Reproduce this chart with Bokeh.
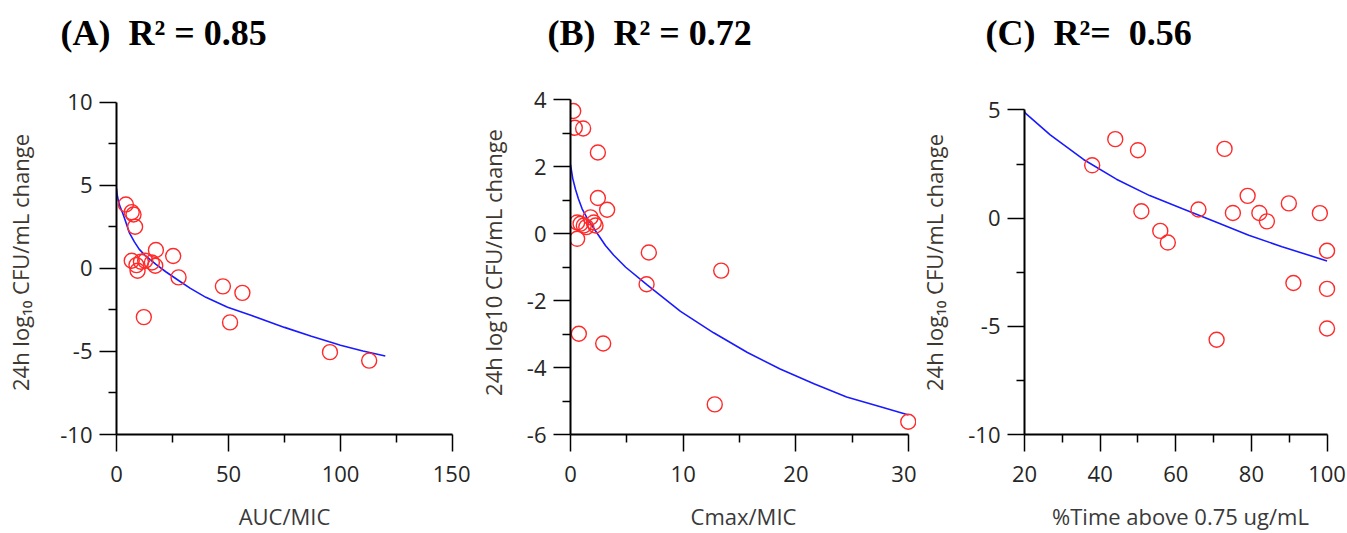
from bokeh.plotting import figure
from bokeh.layouts import row
from bokeh.models import Range1d, FixedTicker, Title
from bokeh.embed import file_html
from bokeh.resources import INLINE

# ---------------- data ----------------
# (A) AUC/MIC
a_x = [4.2, 6.8, 7.6, 8.3, 6.8, 9.4, 10.9, 12.8, 15.8, 17.6, 17.3, 8.9, 25.3, 27.7, 12.2, 47.5, 56.2, 50.7, 95.3, 112.8]
a_y = [3.85, 3.39, 3.25, 2.51, 0.46, -0.14, 0.40, 0.46, 0.36, 1.11, 0.16, 0.20, 0.75, -0.54, -2.93, -1.08, -1.47, -3.25, -5.04, -5.55]
a_fit_x = [0, 0.3, 0.8, 1.5, 2.7, 4, 5.7, 8, 10.1, 13, 17.5, 22, 27.9, 33, 39.9, 49.6, 60, 75, 87, 95, 100, 110, 120]
a_fit_y = [4.8, 4.45, 4.1, 3.75, 3.35, 2.85, 2.16, 1.6, 1.16, 0.75, 0.26, -0.2, -0.74, -1.2, -1.74, -2.34, -2.82, -3.55, -4.08, -4.42, -4.62, -4.97, -5.27]

# (B) Cmax/MIC
b_x = [0.24, 0.38, 1.12, 2.43, 2.43, 3.25, 0.59, 0.89, 1.18, 1.78, 2.07, 2.22, 1.4, 0.59, 6.95, 6.75, 13.37, 0.74, 2.9, 12.8, 29.97]
b_y = [3.67, 3.17, 3.15, 2.43, 1.07, 0.72, 0.34, 0.30, 0.25, 0.49, 0.34, 0.25, 0.20, -0.15, -0.56, -1.51, -1.10, -2.99, -3.28, -5.10, -5.62]
b_fit_x = [0, 0.2, 0.44, 0.7, 1.04, 1.5, 1.9, 2.5, 3.1, 3.84, 4.9, 6.8, 9.76, 12.7, 15.7, 18.6, 21.6, 24.5, 27.5, 30.0]
b_fit_y = [2.07, 1.65, 1.33, 1.05, 0.74, 0.45, 0.25, -0.05, -0.35, -0.64, -1.0, -1.53, -2.32, -2.96, -3.55, -4.04, -4.48, -4.88, -5.17, -5.42]

# (C) %Time above 0.75 ug/mL
c_x = [37.9, 44.0, 50.0, 72.9, 50.9, 55.9, 57.9, 66.0, 75.1, 79.0, 82.1, 84.1, 89.9, 98.1, 100, 91.1, 100, 100, 70.8]
c_y = [2.44, 3.65, 3.14, 3.20, 0.32, -0.59, -1.13, 0.40, 0.24, 1.03, 0.24, -0.15, 0.68, 0.23, -1.51, -3.0, -3.27, -5.10, -5.62]
c_fit_x = [20, 20.3, 26.8, 35.6, 44.3, 53.1, 61.8, 70.6, 79.3, 88.1, 100]
c_fit_y = [4.92, 4.84, 3.85, 2.71, 1.80, 1.04, 0.43, -0.18, -0.79, -1.32, -1.98]

a_xticks, a_xminor = [0, 50, 100, 150], [25, 75, 125]
a_yticks, a_yminor = [-10, -5, 0, 5, 10], [-7.5, -2.5, 2.5, 7.5]
b_xticks, b_xminor = [0, 10, 20, 30], [5, 15, 25]
b_yticks, b_yminor = [-6, -4, -2, 0, 2, 4], [-5, -3, -1, 1, 3]
c_xticks, c_xminor = [20, 40, 60, 80, 100], [30, 50, 70, 90]
c_yticks, c_yminor = [-10, -5, 0, 5], [-7.5, -2.5, 2.5]

titles = ["(A)\u00a0 R\u00b2 = 0.85", "(B)\u00a0 R\u00b2 = 0.72", "(C)\u00a0 R\u00b2=\u00a0 0.56"]
x_labels = ["AUC/MIC", "Cmax/MIC", "%Time above 0.75 ug/mL"]
y_labels = ["24h log\u2081\u2080 CFU/mL change", "24h log10 CFU/mL change", "24h log\u2081\u2080 CFU/mL change"]

FONT = "Open Sans"
TICK_COL = "#262626"
LAB_COL = "#3e3830"
TOP, BOTTOM = 90, 95


def make_panel(width, xr, yr, xb, yb, left, right, xs, ys, fx, fy, xt, xm, yt, ym,
               xlab, ylab, title, title_offset, ylab_standoff):
    p = figure(width=width, height=533, x_range=Range1d(*xr), y_range=Range1d(*yr),
               output_backend="svg", toolbar_location=None, tools="")
    p.min_border_left = left
    p.min_border_right = right
    p.min_border_top = TOP
    p.min_border_bottom = BOTTOM
    p.outline_line_color = None
    p.grid.visible = False
    p.background_fill_color = "white"
    p.border_fill_color = "white"

    # real panel title
    p.title.text = title
    p.title.align = "left"
    p.title.offset = title_offset
    p.title.standoff = 4
    p.title.text_font = "Liberation Serif"
    p.title.text_font_style = "bold"
    p.title.text_font_size = "36px"
    p.title.text_color = "black"
    # blank spacer between the title and the frame
    p.add_layout(Title(text=" ", text_font_size="12px", standoff=20), "above")

    p.line(fx, fy, line_color="#1a1aff", line_width=1.6)
    p.scatter(xs, ys, marker="circle", size=15, fill_color=None,
              line_color="#ff2a2a", line_width=1.4)

    for ax, ticks, minor, bnds in ((p.xaxis[0], xt, xm, xb), (p.yaxis[0], yt, ym, yb)):
        ax.ticker = FixedTicker(ticks=ticks, minor_ticks=minor)
        ax.major_label_overrides = {t: str(t) for t in ticks}
        ax.bounds = bnds
        ax.axis_line_color = "black"
        ax.axis_line_width = 2
        ax.major_tick_line_color = "black"
        ax.major_tick_line_width = 1.5
        ax.minor_tick_line_color = "black"
        ax.minor_tick_line_width = 1.5
        ax.major_tick_in = 0
        ax.minor_tick_in = 0
        ax.major_tick_out = 17
        ax.minor_tick_out = 8
        ax.major_label_text_font = FONT
        ax.major_label_text_font_size = "22px"
        ax.major_label_text_color = TICK_COL
        ax.axis_label_text_font = FONT
        ax.axis_label_text_font_size = "22px"
        ax.axis_label_text_font_style = "normal"
    p.xaxis[0].axis_label = xlab
    p.xaxis[0].axis_label_text_color = "#3a3a3a"
    p.xaxis[0].major_label_standoff = 14
    p.xaxis[0].axis_label_standoff = 16
    p.yaxis[0].axis_label = ylab
    p.yaxis[0].axis_label_text_color = LAB_COL
    p.yaxis[0].major_label_standoff = 7
    p.yaxis[0].axis_label_standoff = ylab_standoff
    return p


pa = make_panel(470, (0, 150), (-10, 10.714), (0, 150), (-10, 10), 116, 18,
                a_x, a_y, a_fit_x, a_fit_y, a_xticks, a_xminor, a_yticks, a_yminor,
                x_labels[0], y_labels[0], titles[0], -56, 22)
pb = make_panel(446, (0, 30.7), (-6, 4.284), (0, 30), (-6, 4), 100, 0,
                b_x, b_y, b_fit_x, b_fit_y, b_xticks, b_xminor, b_yticks, b_yminor,
                x_labels[1], y_labels[1], titles[1], -23, 16)
pc = make_panel(431, (20, 102.5), (-10, 5.898), (20, 100), (-10, 5), 106, 11,
                c_x, c_y, c_fit_x, c_fit_y, c_xticks, c_xminor, c_yticks, c_yminor,
                x_labels[2], y_labels[2], titles[2], -39, 16)

layout = row(pa, pb, pc, spacing=0)
open("out.html", "w").write(file_html(layout, INLINE))
